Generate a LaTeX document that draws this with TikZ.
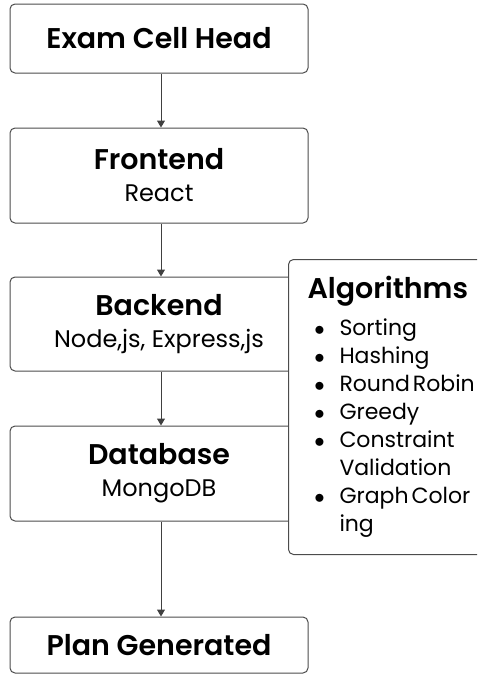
\documentclass[tikz,border=0pt]{standalone}
\usepackage{fontspec}
\setmainfont{Poppins}[BoldFont={Poppins SemiBold}]
\usetikzlibrary{arrows.meta}
\tikzset{
	stage/.style={draw=black!70, line width=1pt, rounded corners=5pt, minimum width=298pt, align=center, inner sep=0pt, font=\fontsize{24}{32}\selectfont},
	flow/.style={draw=black!75, line width=1pt, -{Triangle[length=7pt,width=8pt]}},
	algobox/.style={draw=black!70, fill=white, line width=1pt, rounded corners=5pt, anchor=north west, align=left, inner xsep=19pt, inner ysep=0pt, text width=200pt, minimum height=295pt, font=\fontsize{22}{28}\selectfont},
}
\newcommand{\heading}[1]{{\bfseries\fontsize{28.5}{32}\selectfont #1}}
\newcommand{\algitem}[1]{\makebox[24pt]{$\bullet$}\hspace{8pt}#1}

\begin{document}
\begin{tikzpicture}[x=1pt,y=-1pt]
	\clip (0,0) rectangle (477,675);
	
	% the five stages
	\node[stage, minimum height=69pt] (head) at (159,38.5) {\heading{Exam Cell Head}};
	\node[stage, minimum height=95pt] (front) at (159,175.5) {\heading{Frontend}\\ React};
	\node[stage, minimum height=94pt] (back) at (159,324) {\heading{Backend}\\ Node,js, Express,js};
	\node[stage, minimum height=95pt] (db) at (159,473.5) {\heading{Database}\\ MongoDB};
	\node[stage, minimum height=56pt] (plan) at (159,645) {\heading{Plan Generated}};
	
	% arrows between the stages
	\draw[flow] ([xshift=2pt]head.south) -- ([xshift=2pt]front.north);
	\draw[flow] ([xshift=2pt]front.south) -- ([xshift=2pt]back.north);
	\draw[flow] ([xshift=2pt]back.south) -- ([xshift=2pt]db.north);
	\draw[flow] ([xshift=2pt]db.south) -- ([xshift=2pt]plan.north);
	
	% side box with the algorithms
	\node[algobox] (algo) at (288,259) {\heading{Algorithms}\\[9pt]
		\algitem{Sorting}\\
		\algitem{Hashing}\\
		\algitem{Round\hspace{3pt}Robin}\\
		\algitem{Greedy}\\
		\algitem{Constraint}\\
		\hspace*{32pt}Validation\\
		\algitem{Graph\hspace{3pt}Color}\\
		\hspace*{32pt}ing};
\end{tikzpicture}
\end{document}
